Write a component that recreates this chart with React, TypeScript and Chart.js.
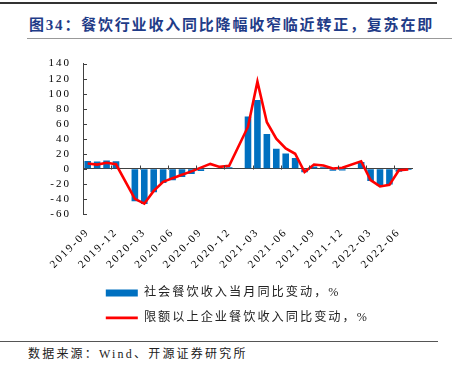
import React, { useEffect, useRef } from 'react';
import { Chart, registerables } from 'chart.js';

Chart.register(...registerables);

const months = [
  '2019-09', '2019-10', '2019-11', '2019-12',
  '2020-01', '2020-02', '2020-03', '2020-04', '2020-05', '2020-06',
  '2020-07', '2020-08', '2020-09', '2020-10', '2020-11', '2020-12',
  '2021-01', '2021-02', '2021-03', '2021-04', '2021-05', '2021-06',
  '2021-07', '2021-08', '2021-09', '2021-10', '2021-11', '2021-12',
  '2022-01', '2022-02', '2022-03', '2022-04', '2022-05', '2022-06',
  '2022-07',
];

// 社会餐饮收入当月同比变动，%
const cateringYoY = [
  10.3, 9.6, 11.0, 10.0,
  null, -43.1, -46.8, -31.1, -18.9, -15.2,
  -11.0, -7.0, -2.9, 0.8, -0.6, 2.0,
  null, 69.6, 91.6, 46.4, 26.6, 20.2,
  14.3, -4.5, 3.1, 2.0, -2.7, -2.2,
  null, 8.9, -16.4, -22.7, -21.1, -4.0,
  -1.5,
];

// 限额以上企业餐饮收入同比变动，%
const aboveQuotaYoY = [
  7.0, 5.5, 8.0, 6.0,
  null, -40.0, -46.5, -29.5, -17.5, -12.5,
  -8.0, -3.5, 1.5, 6.5, 2.5, 4.0,
  null, 56.0, 116.0, 62.0, 40.0, 27.0,
  20.0, -4.4, 5.6, 4.3, 0.3, 1.3,
  null, 10.0, -15.0, -23.5, -21.4, -2.0,
  -1.0,
];

const seriesNames = ['社会餐饮收入当月同比变动，%', '限额以上企业餐饮收入同比变动，%'];
const yMin = -60;
const yMax = 140;
const yStep = 20;
const labelEvery = 3;

const titleText = '图34：餐饮行业收入同比降幅收窄临近转正，复苏在即';
const sourceText = '数据来源：Wind、开源证券研究所';

const BLUE = '#0070C0';
const RED = '#FF0000';
const AXIS = '#404040';
const SERIF = "'Liberation Serif', 'Noto Sans CJK SC', serif";

const spacingPlugin = {
  id: 'letterSpacingPlugin',
  beforeUpdate(c: any) { c.ctx.letterSpacing = '2px'; },
  beforeDraw(c: any) { c.ctx.letterSpacing = '2px'; },
};

const legendShift = {
  id: 'legendShift',
  afterLayout(c: any) {
    const l = c.legend;
    if (l) { l.left += 10; l.right += 10; }
  },
};

const axisMarks = {
  id: 'axisMarks',
  afterDatasetsDraw(c: any) {
    const { ctx, chartArea } = c;
    const x = c.scales.x;
    const y = c.scales.y;
    ctx.save();
    ctx.strokeStyle = AXIS;
    ctx.lineWidth = 1;
    ctx.beginPath();
    // inward ticks on the value axis
    y.ticks.forEach((t: any) => {
      const py = Math.round(y.getPixelForValue(t.value)) + 0.5;
      ctx.moveTo(chartArea.left, py);
      ctx.lineTo(chartArea.left + 4, py);
    });
    // ticks on the zero line at the left boundary of labelled categories
    const half = (x.getPixelForValue(1) - x.getPixelForValue(0)) / 2;
    const y0 = Math.round(y.getPixelForValue(0)) + 0.5;
    for (let i = labelEvery; i < months.length; i += labelEvery) {
      const px = Math.round(x.getPixelForValue(i) - half) + 0.5;
      ctx.moveTo(px, y0);
      ctx.lineTo(px, y0 - 4);
    }
    ctx.stroke();
    ctx.restore();
  },
};

export default function App() {
  const ref = useRef<HTMLCanvasElement | null>(null);

  useEffect(() => {
    if (!ref.current) return;
    const chart = new Chart(ref.current, {
      type: 'bar',
      data: {
        labels: months,
        datasets: [
          {
            type: 'bar',
            label: seriesNames[0],
            data: cateringYoY,
            backgroundColor: BLUE,
            borderWidth: 0,
            categoryPercentage: 1,
            barPercentage: 0.7,
            order: 1,
          },
          {
            type: 'line',
            label: seriesNames[1],
            data: aboveQuotaYoY,
            borderColor: RED,
            backgroundColor: RED,
            borderWidth: 2.6,
            pointRadius: 0,
            tension: 0,
            spanGaps: true,
            order: 0,
          },
        ] as any,
      },
      options: {
        animation: false,
        responsive: false,
        layout: { padding: { top: 11, right: 39, bottom: 0, left: 0 } },
        plugins: {
          tooltip: { enabled: false },
          legend: {
            position: 'bottom',
            align: 'start',
            fullSize: false,
            labels: {
              usePointStyle: true,
              pointStyleWidth: 32,
              padding: 12.8,
              color: '#222',
              font: { family: SERIF, size: 12.2 },
              sort: (a: any, b: any) => a.datasetIndex - b.datasetIndex,
              generateLabels: (c: any) => {
                const items = Chart.defaults.plugins.legend.labels.generateLabels(c);
                return items.map((it: any) => {
                  const isBar = it.datasetIndex === 0;
                  return {
                    ...it,
                    pointStyle: 'line',
                    lineWidth: isBar ? 7 : 2.6,
                    strokeStyle: isBar ? BLUE : RED,
                    fillStyle: isBar ? BLUE : RED,
                    lineCap: 'butt',
                  };
                });
              },
            },
          },
        },
        scales: {
          x: {
            grid: { display: false, drawTicks: false },
            border: { display: false },
            afterFit: (s: any) => { s.height = s.height - 9; },
            ticks: {
              autoSkip: false,
              maxRotation: 45,
              minRotation: 45,
              padding: 12,
              color: '#000',
              font: { family: SERIF, size: 11 },
              callback: (_v: any, i: number) => (i % labelEvery === 0 ? months[i] : ''),
            },
          },
          y: {
            min: yMin,
            max: yMax,
            afterFit: (s: any) => { s.width = 83; },
            grid: {
              drawTicks: false,
              color: (ctx: any) => (ctx.tick && ctx.tick.value === 0 ? AXIS : 'rgba(0,0,0,0)'),
              lineWidth: 1,
            },
            border: { display: true, color: AXIS, width: 1 },
            ticks: {
              stepSize: yStep,
              autoSkip: false,
              padding: 12,
              color: '#000',
              font: { family: SERIF, size: 11 },
            },
          },
        },
      } as any,
      plugins: [spacingPlugin, legendShift, axisMarks],
    });
    return () => chart.destroy();
  }, []);

  return (
    <div style={{ position: 'absolute', left: 0, top: 0, width: 452, height: 369, background: '#fff', overflow: 'hidden' }}>
      <div style={{ position: 'absolute', left: 0, top: 2, width: 437, height: 2, background: '#333' }} />
      <div
        style={{
          position: 'absolute', left: 29, top: 15, lineHeight: '20px', whiteSpace: 'nowrap',
          fontFamily: "'Liberation Serif', 'Noto Sans CJK SC', serif", fontWeight: 'bold',
          fontSize: 15, letterSpacing: '1.8px', color: '#1f3c88',
        }}
      >
        {titleText}
      </div>
      <div style={{ position: 'absolute', left: 27, top: 38, width: 425, height: 1, background: '#999' }} />
      <canvas ref={ref} width={452} height={289} style={{ position: 'absolute', left: 0, top: 45, display: 'block' }} />
      <div style={{ position: 'absolute', left: 0, top: 341, width: 438, height: 1, background: '#555' }} />
      <div
        style={{
          position: 'absolute', left: 28, top: 346, lineHeight: '16px', whiteSpace: 'nowrap',
          fontFamily: "'Liberation Serif', 'Noto Sans CJK SC', serif",
          fontSize: 12, letterSpacing: '2.2px', color: '#222',
        }}
      >
        {sourceText}
      </div>
    </div>
  );
}
